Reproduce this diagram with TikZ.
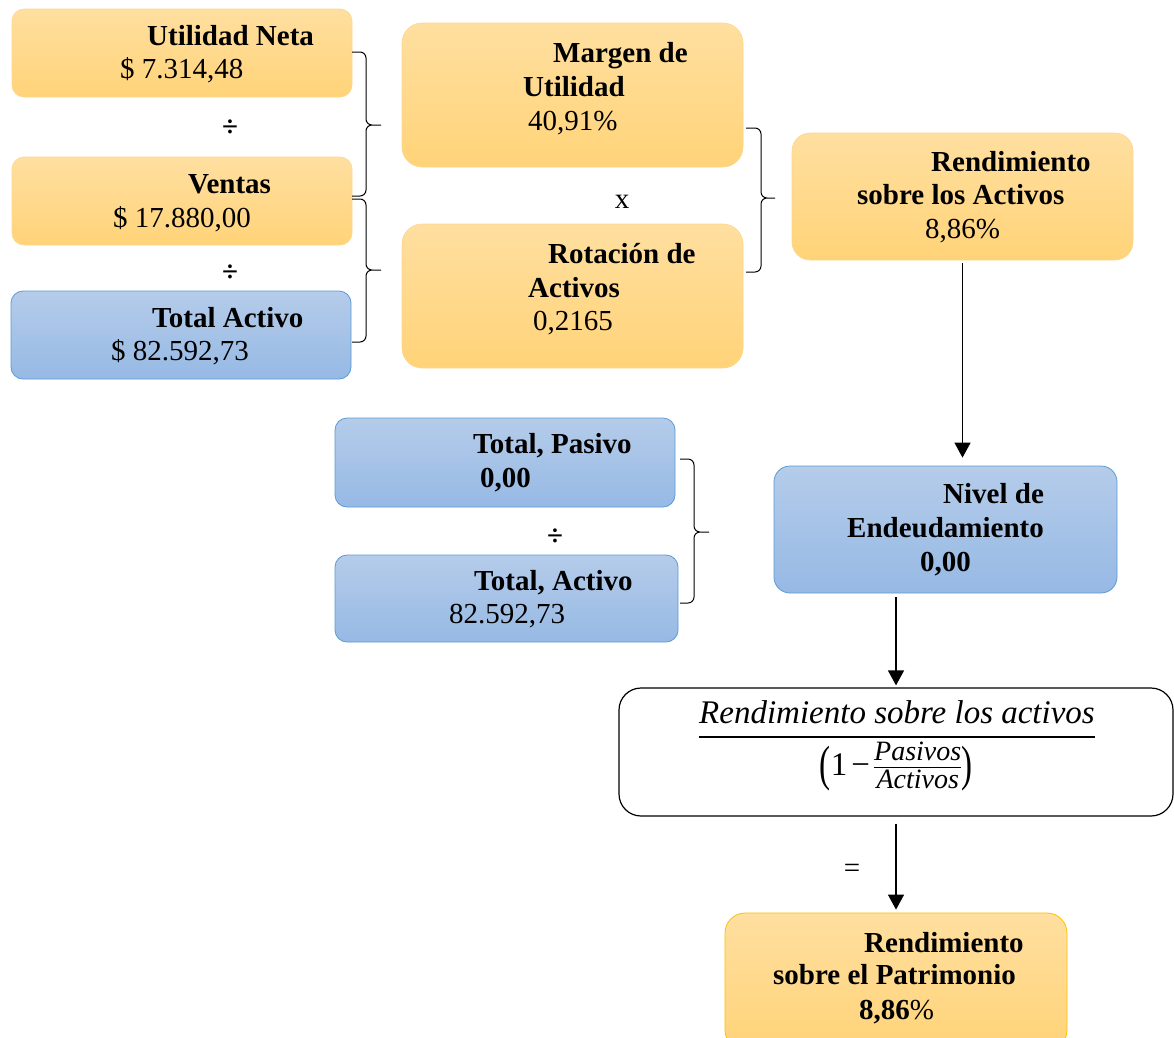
\documentclass[tikz,border=0pt]{standalone}
\usepackage{amsmath}
\usepackage{graphicx}
\usepackage{fontspec}
\setmainfont{Liberation Serif}
\usetikzlibrary{arrows.meta}
\definecolor{otop}{RGB}{255,223,160}
\definecolor{obot}{RGB}{255,211,120}
\definecolor{btop}{RGB}{181,204,234}
\definecolor{bbot}{RGB}{150,185,228}
\definecolor{bline}{RGB}{91,155,213}
\definecolor{oline}{RGB}{255,214,140}
\definecolor{gline}{RGB}{255,192,0}
\newcommand\wordbrace[6]{%
  \draw[bracestyle] (#1,#4) -- ({#2-6},#4) to[out=0,in=90] (#2,{#4+6}) -- (#2,{#5-6})
    to[out=-90,in=180] ({#2+6},#5) -- (#3,#5)
    ({#2+6},#5) to[out=180,in=90] (#2,{#5+6}) -- (#2,{#6-6})
    to[out=-90,in=0] ({#2-6},#6) -- (#1,#6);}
\newcommand\smallstackfrac[2]{\vcenter{\hbox{\fontsize{28}{30}\selectfont\itshape
  \renewcommand\arraystretch{0.8}\setlength\arrayrulewidth{1.2pt}%
  \begin{tabular}{@{}c@{}}#1\\[-1pt]\hline\rule{0pt}{21pt}#2\end{tabular}}}}
\newcommand\tallparen[1]{\vcenter{\hbox{\scalebox{1}[1.5]{#1}}}}
\tikzset{
  obox/.style={draw=oline, line width=0.6pt, top color=otop, bottom color=obot, inner sep=0pt},
  bbox/.style={draw=bline, line width=0.8pt, top color=btop, bottom color=bbot, inner sep=0pt},
  txt/.style={anchor=base west, inner sep=0pt, font=\fontsize{29}{34}\selectfont},
  btxt/.style={txt, font=\fontsize{29}{34}\selectfont\bfseries},
  sym/.style={inner sep=0pt, font=\fontsize{29}{34}\selectfont},
  bracestyle/.style={line width=1pt, black},
  arr/.style={line width=1.2pt, -{Triangle[width=16pt,length=15pt]}},
}
\begin{document}
\begin{tikzpicture}[x=1pt,y=-1pt]
\useasboundingbox (0,0) rectangle (1174,1037);
\fill[white] (0,0) rectangle (1174,1037);

% left column
\node[obox, rounded corners=12pt, minimum width=340pt, minimum height=88pt] (un) at (182,53) {};
\node[obox, rounded corners=12pt, minimum width=340pt, minimum height=88pt] (ve) at (182,201) {};
\node[bbox, rounded corners=12pt, minimum width=340pt, minimum height=88pt] (ta) at (181,335) {};
\node[btxt] (unt1) at (147,45) {Utilidad Neta};
\node[txt]  (unt2) at (120,78) {\$ 7.314,48};
\node[btxt] (vet1) at (188,193) {Ventas};
\node[txt]  (vet2) at (113,227) {\$ 17.880,00};
\node[btxt] (tat1) at (152,327) {Total Activo};
\node[txt]  (tat2) at (111,360) {\$ 82.592,73};
\node[sym, font=\fontsize{29}{34}\selectfont\bfseries] (d1) at (230,128) {÷};
\node[sym, font=\fontsize{29}{34}\selectfont\bfseries] (d2) at (230,273) {÷};

% middle column
\node[obox, rounded corners=20pt, minimum width=341pt, minimum height=144pt] (mu) at (572.5,95) {};
\node[obox, rounded corners=20pt, minimum width=341pt, minimum height=144pt] (ro) at (572.5,296) {};
\node[btxt] (mut1) at (553,62) {Margen de};
\node[btxt] (mut2) at (523,96) {Utilidad};
\node[txt]  (mut3) at (528,130) {40,91\%};
\node[btxt] (rot1) at (548,263) {Rotación de};
\node[btxt] (rot2) at (528,297) {Activos};
\node[txt]  (rot3) at (533,330) {0,2165};
\node[sym, anchor=base] (x1) at (622,208) {x};

% right column
\node[obox, rounded corners=18pt, minimum width=341pt, minimum height=127pt] (ra) at (962.5,196.5) {};
\node[btxt] (rat1) at (931,171) {Rendimiento};
\node[btxt] (rat2) at (857,204) {sobre los Activos};
\node[txt]  (rat3) at (925,238) {8,86\%};

\node[bbox, rounded corners=16pt, minimum width=343pt, minimum height=127pt] (ne) at (945.5,529.5) {};
\node[btxt] (net1) at (943,503) {Nivel de};
\node[btxt] (net2) at (847,537) {Endeudamiento};
\node[btxt] (net3) at (920,571) {0,00};

% pasivo / activo
\node[bbox, rounded corners=12pt, minimum width=340pt, minimum height=89pt] (tp) at (505,462.5) {};
\node[bbox, rounded corners=12pt, minimum width=343pt, minimum height=87pt] (tac) at (506.5,598.5) {};
\node[btxt] (tpt1) at (473,453) {Total, Pasivo};
\node[btxt] (tpt2) at (480,487) {0,00};
\node[btxt] (tact1) at (474,590) {Total, Activo};
\node[txt]  (tact2) at (449,623) {82.592,73};
\node[sym, font=\fontsize{29}{34}\selectfont\bfseries] (d3) at (555,537) {÷};

% formula
\node[draw=black, line width=1.2pt, fill=white, rounded corners=22pt, minimum width=554pt, minimum height=128pt, inner sep=0pt] (fb) at (896,752) {};
\node[anchor=base, inner sep=0pt, font=\fontsize{33}{36}\selectfont\itshape] (fnum) at (897,723) {Rendimiento sobre los activos};
\draw[line width=2pt] (fnum.south west |- 0,737) -- (fnum.south east |- 0,737);
\node[inner sep=0pt, font=\fontsize{33}{36}\selectfont] (fden) at (896,769) {$\tallparen{(}\text{1}\,\text{−}\,\smallstackfrac{Pasivos}{Activos}\tallparen{)}$};

% result
\node[draw=gline, line width=0.8pt, top color=otop, bottom color=obot, rounded corners=20pt, minimum width=342pt, minimum height=137pt, inner sep=0pt] (pa) at (896,981.5) {};
\node[btxt] (pat1) at (864,952) {Rendimiento};
\node[btxt] (pat2) at (773,984) {sobre el Patrimonio};
\node[txt]  (pat3) at (859,1019) {\textbf{8,86}\%};
\node[sym] (eq) at (852,871) {=};

% braces
\wordbrace{352}{366}{381}{52}{125}{196}
\wordbrace{352}{366}{381}{199}{270}{342}
\wordbrace{746}{761}{775}{128}{198}{272}
\wordbrace{680}{694}{709}{459}{532}{603}

% arrows
\draw[arr, shorten <=3pt, shorten >=8pt] (ra.south) -- (ra.south |- ne.north);
\draw[arr, shorten <=4pt, shorten >=2pt] (fb.north |- ne.south) -- (fb.north);
\draw[arr, shorten <=7pt, shorten >=3pt] (fb.south) -- (fb.south |- pa.north);
\end{tikzpicture}
\end{document}
